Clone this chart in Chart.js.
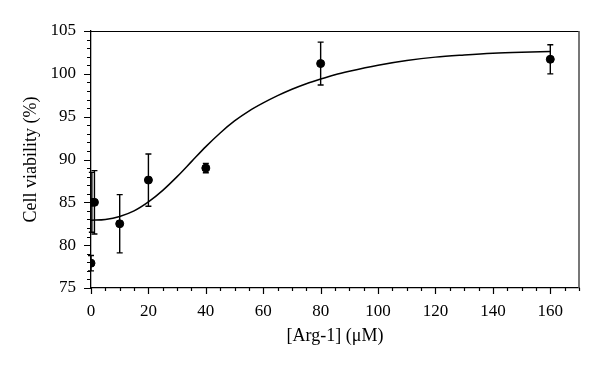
<!DOCTYPE html>
<html>
<head>
<meta charset="utf-8">
<script src="https://cdn.jsdelivr.net/npm/chart.js@4.4.1/dist/chart.umd.min.js"></script>
<style>
  html, body { margin: 0; padding: 0; background: #fff; }
  #wrap { width: 600px; height: 372px; }
</style>
</head>
<body>
<div id="wrap"><canvas id="chart" width="600" height="372"></canvas></div>
<script>
// measured points (concentration in uM, viability in %, error)
const concentrations = [0, 0.3, 1.2, 10, 20, 40, 80, 160];
const viability = [77.9, 85.0, 85.0, 82.5, 87.6, 89.0, 101.2, 101.7];
const errors = [0.9, 3.5, 3.7, 3.4, 3.05, 0.55, 2.5, 1.7];

// fitted curve
const fitX = [0, 5, 10, 15, 20, 25, 30, 35, 40, 45, 50, 55, 60, 65, 70, 75, 80, 85, 90, 100, 110, 120, 130, 140, 150, 160];
const fitY = [82.9, 83.0, 83.35, 84.0, 85.05, 86.4, 88.0, 89.75, 91.5, 93.1, 94.5, 95.65, 96.6, 97.45, 98.2, 98.85, 99.4, 99.9, 100.3, 101.0, 101.55, 101.95, 102.2, 102.4, 102.52, 102.6];

const xTicks = [0, 20, 40, 60, 80, 100, 120, 140, 160];
const yTicks = [75, 80, 85, 90, 95, 100, 105];

const points = concentrations.map((x, i) => ({ x: x, y: viability[i], err: errors[i] }));
const curve = fitX.map((x, i) => ({ x: x, y: fitY[i] }));

// error bars, minor/major ticks and the box frame
const extras = {
  id: 'extras',
  beforeDatasetsDraw(chart) {
    const ctx = chart.ctx;
    const xs = chart.scales.x, ys = chart.scales.y;
    ctx.save();
    ctx.strokeStyle = '#000';
    ctx.lineWidth = 1.4;
    points.forEach(p => {
      const px = xs.getPixelForValue(p.x);
      const top = ys.getPixelForValue(p.y + p.err);
      const bot = ys.getPixelForValue(p.y - p.err);
      ctx.beginPath();
      ctx.moveTo(px, top); ctx.lineTo(px, bot);
      ctx.moveTo(px - 3, top); ctx.lineTo(px + 3, top);
      ctx.moveTo(px - 3, bot); ctx.lineTo(px + 3, bot);
      ctx.stroke();
    });
    ctx.restore();
  },
  afterDraw(chart) {
    const ctx = chart.ctx;
    const a = chart.chartArea;
    const xs = chart.scales.x, ys = chart.scales.y;
    ctx.save();
    ctx.lineWidth = 1.2;
    ctx.strokeStyle = '#000';
    ctx.beginPath();
    for (let v = 75; v <= 105; v += 1) {
      const py = Math.round(ys.getPixelForValue(v)) + 0.5;
      const len = v % 5 === 0 ? 7 : 4;
      ctx.moveTo(a.left - len, py); ctx.lineTo(a.left, py);
    }
    for (let v = 0; v <= 170; v += 5) {
      const px = Math.round(xs.getPixelForValue(v)) + 0.5;
      const len = v % 20 === 0 ? 6 : 3;
      ctx.moveTo(px, a.bottom); ctx.lineTo(px, a.bottom + len);
    }
    ctx.stroke();
    // top and right of the frame
    ctx.beginPath();
    ctx.moveTo(a.left, a.top + 0.5); ctx.lineTo(a.right, a.top + 0.5);
    ctx.stroke();
    ctx.strokeStyle = '#555';
    ctx.lineWidth = 1.6;
    ctx.beginPath();
    ctx.moveTo(a.right, a.top); ctx.lineTo(a.right, a.bottom);
    ctx.stroke();
    ctx.restore();
  }
};

const tickFont = { family: '"Liberation Serif", "Times New Roman", serif', size: 17 };
const titleFont = { family: '"Liberation Serif", "Times New Roman", serif', size: 18 };

new Chart(document.getElementById('chart'), {
  type: 'scatter',
  data: {
    datasets: [
      {
        label: 'fit',
        data: curve,
        showLine: true,
        borderColor: '#000',
        borderWidth: 1.5,
        pointRadius: 0,
        cubicInterpolationMode: 'monotone',
        order: 2
      },
      {
        label: 'data',
        data: points,
        showLine: false,
        pointRadius: 4,
        pointBackgroundColor: '#000',
        pointBorderColor: '#000',
        order: 1
      }
    ]
  },
  options: {
    responsive: false,
    animation: false,
    events: [],
    layout: { padding: { left: 20, right: 21, top: 31, bottom: 0 } },
    plugins: { legend: { display: false }, tooltip: { enabled: false } },
    scales: {
      x: {
        type: 'linear',
        min: 0,
        max: 170,
        afterBuildTicks: s => { s.ticks = xTicks.map(v => ({ value: v })); },
        afterFit: s => { s.height = 84; },
        grid: { display: false, drawTicks: false },
        border: { display: true, color: '#000', width: 1.3 },
        ticks: { color: '#000', font: tickFont, padding: 13, autoSkip: false, maxRotation: 0 },
        title: { display: true, text: '[Arg-1] (μM)', color: '#000', font: titleFont, padding: { top: 0, bottom: 25 } }
      },
      y: {
        type: 'linear',
        min: 75,
        max: 105,
        afterBuildTicks: s => { s.ticks = yTicks.map(v => ({ value: v })); },
        afterFit: s => { s.width = 71; },
        grid: { display: false, drawTicks: false },
        border: { display: true, color: '#000', width: 1.3 },
        ticks: { color: '#000', font: tickFont, padding: 15 },
        title: { display: true, text: 'Cell viability (%)', color: '#000', font: titleFont, padding: { top: 0, bottom: 0 } }
      }
    }
  },
  plugins: [extras]
});
</script>
</body>
</html>
